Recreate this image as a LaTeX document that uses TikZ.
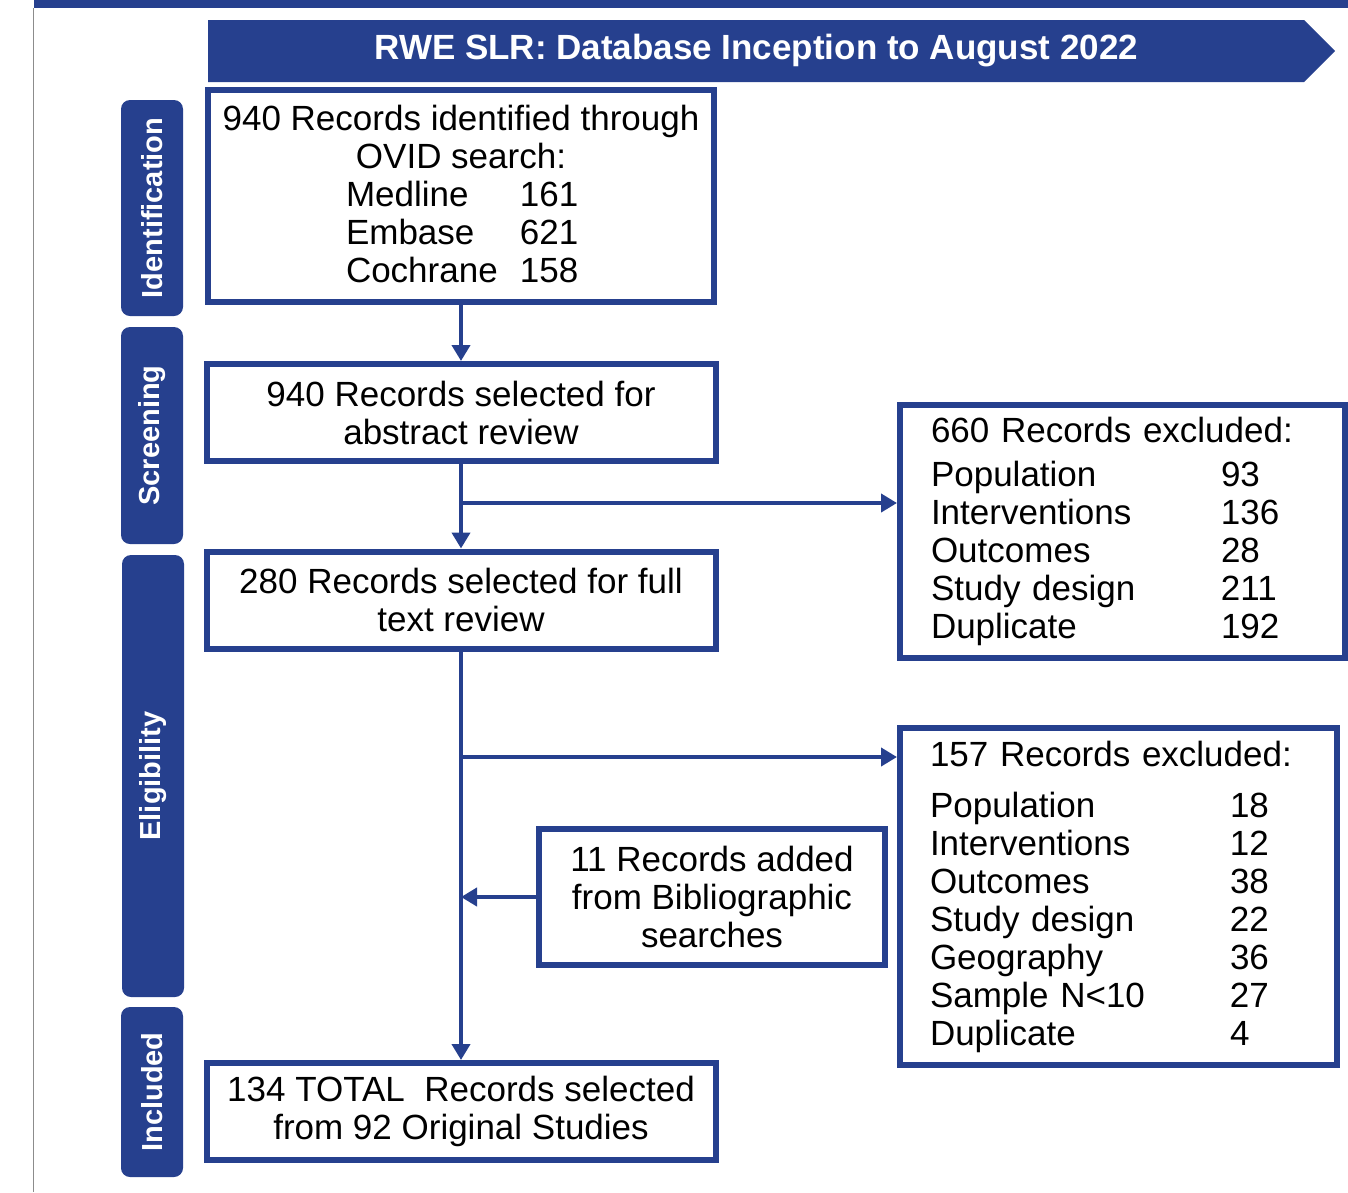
\documentclass[tikz,border=0pt]{standalone}
\usepackage{fontspec}
\setmainfont{Liberation Sans}
\usepackage{tikz}
\usetikzlibrary{arrows.meta,positioning,calc,shapes.symbols}
\definecolor{prismablue}{RGB}{38,64,142}
\definecolor{framegray}{RGB}{140,140,140}
\newcommand{\bodyfont}{\fontsize{35}{38}\selectfont}
\newcommand{\headfont}{\fontsize{35}{38}\selectfont\bfseries}
\newcommand{\stagefont}{\fontsize{29}{32}\selectfont\bfseries}
\newcommand{\dbrow}[2]{\makebox[230pt][l]{\makebox[174pt][l]{#1}#2}}
\newcommand{\exrow}[3][290pt]{\makebox[#1][l]{#2}#3}
\tikzset{
  stepbox/.style={rectangle,draw=prismablue,line width=6pt,fill=white,align=center,
    font=\bodyfont,inner sep=0pt,minimum width=509pt,minimum height=97pt},
  exclbox/.style={stepbox,align=left,inner xsep=31pt},
  stagebox/.style={rectangle,rounded corners=9pt,fill=prismablue,text=white,font=\stagefont,
    rotate=90,minimum height=62pt,inner sep=0pt},
  headarrow/.style={signal,signal to=east,signal pointer angle=90,fill=prismablue,text=white,
    font=\headfont,minimum height=62pt,inner sep=0pt},
  arr/.style={-{Triangle[length=16pt,width=18pt]},line width=4.5pt,color=prismablue}
}

\begin{document}
\begin{tikzpicture}[x=1pt,y=-1pt]
  \useasboundingbox (0,0) rectangle (1348,1192);

  %% page frame
  \fill[prismablue] (34,0) rectangle (1348,8);
  \draw[framegray,line width=1pt] (33,8) -- (33,1192);

  %% Header
  \node[headarrow,minimum width=1127pt,anchor=west] (head) at (208,51)
    {RWE SLR: Database Inception to August 2022};

  %% Stage labels
  \node[stagebox,minimum width=216pt] (ident) at (152,208) {Identification};
  \node[stagebox,minimum width=217pt] (screen) at (152,435.5) {Screening};
  \node[stagebox,minimum width=442pt] (elig) at (153,776) {Eligibility};
  \node[stagebox,minimum width=170pt] (incl) at (152,1092) {Included};

  %% Main flow
  \node[stepbox,minimum height=212pt,minimum width=506pt] (srcbox) at (461,196)
    {\raisebox{4pt}{940 Records identified through}\\
     \raisebox{4pt}{OVID search:}\\
     \raisebox{4pt}{\dbrow{Medline}{161}}\\
     \raisebox{4pt}{\dbrow{Embase}{621}}\\
     \raisebox{4pt}{\dbrow{Cochrane}{158}}};
  \node[stepbox] (absbox) at (461,412.5)
    {940 Records selected for\\abstract review};
  \node[stepbox] (fullbox) at (461,600)
    {280 Records selected for full\\text review};
  \node[stepbox] (totalbox) at (461,1111.5)
    {134 TOTAL~ Records selected\\from 92 Original Studies};

  %% Side boxes
  \node[exclbox,text width=383pt,minimum width=445pt,minimum height=253pt] (excl1) at (1122.5,531.5)
    {660 Records excluded:\\[6pt]
     \exrow{Population}{93}\\
     \exrow{Interventions}{136}\\
     \exrow{Outcomes}{28}\\
     \exrow{Study design}{211}\\
     \exrow{Duplicate}{192}};
  \node[exclbox,text width=377pt,inner xsep=30pt,minimum width=437pt,minimum height=337pt] (excl2) at (1118.5,896.5)
    {157 Records excluded:\\[13pt]
     \exrow[300pt]{Population}{18}\\
     \exrow[300pt]{Interventions}{12}\\
     \exrow[300pt]{Outcomes}{38}\\
     \exrow[300pt]{Study design}{22}\\
     \exrow[300pt]{Geography}{36}\\
     \exrow[300pt]{Sample N<10}{27}\\
     \exrow[300pt]{Duplicate}{4}};
  \node[stepbox,minimum width=346pt,minimum height=136pt] (addbox) at (712,897)
    {11 Records added\\from Bibliographic\\searches};

  %% Forks on the trunk
  \coordinate (fork1) at (461,503);
  \coordinate (fork2) at (461,757);

  %% Arrows
  \draw[arr] (srcbox.south) -- (absbox.north);
  \draw[arr] (absbox.south) -- (fullbox.north);
  \draw[arr] (fork1) -- (fork1 -| excl1.west);
  \draw[arr] (fullbox.south) -- (totalbox.north);
  \draw[arr] (fork2) -- (fork2 -| excl2.west);
  \draw[arr] (addbox.west) -- (addbox.west -| fullbox.south);

\end{tikzpicture}
\end{document}
